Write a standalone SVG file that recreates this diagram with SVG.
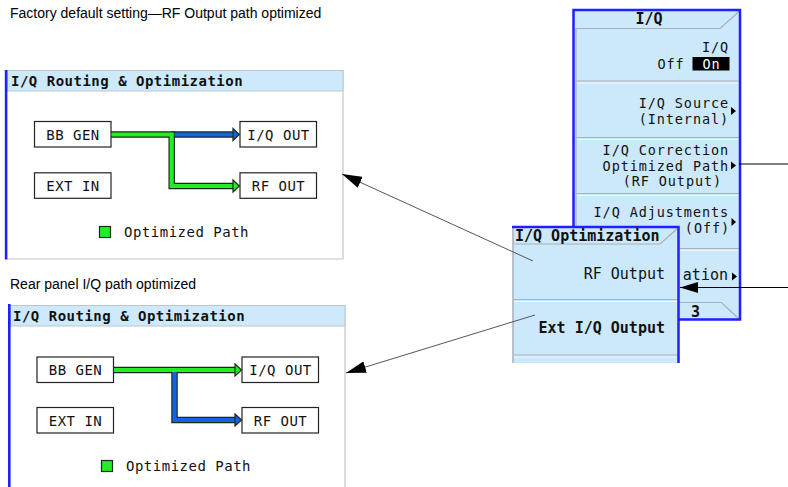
<svg xmlns="http://www.w3.org/2000/svg" width="788" height="487" viewBox="0 0 788 487">
<defs>
<style>
.cap{font-family:"Liberation Sans",Arial,sans-serif;font-size:14px;fill:#000}
.m{font-family:"DejaVu Sans Mono",monospace;font-size:14px;letter-spacing:0.5px;fill:#111}
.mm{font-family:"DejaVu Sans Mono",monospace;font-size:15px;fill:#111}
.ms{font-family:"DejaVu Sans Mono",monospace;font-size:13.5px;letter-spacing:0.9px;fill:#111}
.b{font-weight:bold}
.e{text-anchor:end}
.c{text-anchor:middle}
.box{fill:#fff;stroke:#222;stroke-width:1.2}
.tbar{fill:#cde9fb;stroke:#bcc6cf;stroke-width:1}
.frame{fill:none;stroke:#c6c6c6;stroke-width:1.2}
.blue{fill:#1f1fff}
.out{fill:none;stroke:#1a2a1a;stroke-width:6.5;stroke-linejoin:miter}
.gr{fill:none;stroke:#22ee22;stroke-width:4.2;stroke-linejoin:miter}
.bl{fill:none;stroke:#1463e6;stroke-width:4.2}
.hg{fill:#22ee22;stroke:#1a2a1a;stroke-width:1.2;stroke-linejoin:miter}
.hb{fill:#1463e6;stroke:#1a2a1a;stroke-width:1.2;stroke-linejoin:miter}
.menu{fill:#cce8fb}
.sep{fill:none;stroke:#a8b0b8;stroke-width:1.2}
.hl{fill:none;stroke:#f2f8fc;stroke-width:1}
.mb{fill:none;stroke:#1f1fff;stroke-width:2.5}
.ptr{fill:none;stroke:#555;stroke-width:1}
.ptrk{fill:none;stroke:#000;stroke-width:1.2}
</style>
<marker id="ah" viewBox="0 0 20 12" refX="20" refY="6" markerWidth="20" markerHeight="12" orient="auto" markerUnits="userSpaceOnUse"><path d="M0,0 L20,6 L0,12 Z" fill="#000"/></marker>
<marker id="ah2" viewBox="0 0 18 11" refX="18" refY="5.5" markerWidth="18" markerHeight="11" orient="auto" markerUnits="userSpaceOnUse"><path d="M0,0 L18,5.5 L0,11 Z" fill="#000"/></marker>
</defs>
<rect width="788" height="487" fill="#fff"/>

<text class="cap" x="10" y="18">Factory default setting—RF Output path optimized</text>
<text class="cap" x="10" y="289">Rear panel I/Q path optimized</text>

<g id="panel-factory">
<path class="frame" d="M7,70.5 H343 V259 H7"/>
<rect class="tbar" x="7.5" y="70.5" width="335.5" height="20.5"/>
<rect class="blue" x="4.8" y="70" width="2.6" height="189.5"/>
<text class="m b" x="11" y="86">I/Q Routing &amp; Optimization</text>
<g id="p1-bbgen"><rect class="box" x="34.5" y="121.5" width="76.5" height="25.5"/><text class="m c" x="73" y="139.5">BB GEN</text></g>
<g id="p1-extin"><rect class="box" x="34.5" y="172.8" width="76.5" height="25.5"/><text class="m c" x="73" y="190.8">EXT IN</text></g>
<g id="p1-iqout"><rect class="box" x="240" y="121.5" width="76.5" height="25.5"/><text class="m c" x="278.5" y="139.5">I/Q OUT</text></g>
<g id="p1-rfout"><rect class="box" x="240" y="172.8" width="76.5" height="25.5"/><text class="m c" x="278.5" y="190.8">RF OUT</text></g>
<g id="p1-legend"><rect x="99.5" y="226.5" width="11" height="11" fill="#22ee22" stroke="#1a2a1a" stroke-width="1.2"/><text class="m" x="124" y="236.5">Optimized Path</text></g>
</g>

<g id="panel-rear">
<path class="frame" d="M10,305.5 H345 V487"/>
<rect class="tbar" x="10.5" y="305.5" width="334.5" height="20.5"/>
<rect class="blue" x="8" y="304" width="2.6" height="183"/>
<text class="m b" x="13" y="321">I/Q Routing &amp; Optimization</text>
<g id="p2-bbgen"><rect class="box" x="37" y="357" width="76.5" height="25.5"/><text class="m c" x="75.5" y="375">BB GEN</text></g>
<g id="p2-extin"><rect class="box" x="37" y="407.5" width="76.5" height="25.5"/><text class="m c" x="75.5" y="425.5">EXT IN</text></g>
<g id="p2-iqout"><rect class="box" x="242" y="357" width="76.5" height="25.5"/><text class="m c" x="280.5" y="375">I/Q OUT</text></g>
<g id="p2-rfout"><rect class="box" x="242" y="407.5" width="76.5" height="25.5"/><text class="m c" x="280.5" y="425.5">RF OUT</text></g>
<g id="p2-legend"><rect x="101.5" y="460.5" width="11" height="11" fill="#22ee22" stroke="#1a2a1a" stroke-width="1.2"/><text class="m" x="126" y="471">Optimized Path</text></g>
</g>

<g id="menu-iq">
<rect class="menu" x="573.5" y="10" width="167" height="310"/>
<path class="sep" d="M575.5,28.5 H720 L739,11.5"/>
<path class="sep" d="M575.5,81 H739"/><path class="hl" d="M575.5,83 H739"/>
<path class="sep" d="M575.5,137.5 H739"/><path class="hl" d="M575.5,139.5 H739"/>
<path class="sep" d="M575.5,193.5 H739"/><path class="hl" d="M575.5,195.5 H739"/>
<path class="sep" d="M575.5,248.5 H739"/><path class="hl" d="M575.5,250.5 H739"/>
<path class="sep" d="M575.5,302.5 H721.5 L738.5,318.5"/>
<path class="sep" d="M576,29 V319"/>
<path class="mb" d="M573.5,319.5 V10 H740 V319.5 H573.5"/>
<text class="mm b c" x="649" y="24">I/Q</text>
<text class="ms e" x="729" y="52">I/Q</text>
<text class="ms e" x="684.5" y="68.5">Off</text>
<rect x="692.5" y="57" width="37" height="13.5" fill="#000"/>
<text class="ms c" x="711.5" y="68.5" style="fill:#fff">On</text>
<text class="ms e"><tspan x="729" y="107.9">I/Q Source</tspan><tspan x="729" y="123.7">(Internal)</tspan></text>
<polygon points="731,107 736,111 731,115" fill="#000"/>
<text class="ms e"><tspan x="729" y="154.8">I/Q Correction</tspan><tspan x="729" y="170.6">Optimized Path</tspan><tspan x="722" y="186.4">(RF Output)</tspan></text>
<polygon points="731,161.5 736,165.5 731,169.5" fill="#000"/>
<text class="ms e"><tspan x="729" y="217.1">I/Q Adjustments</tspan><tspan x="730" y="232.9">(Off)</tspan></text>
<polygon points="731.5,218 736,222 731.5,226" fill="#000"/>
<text class="mm e" x="728" y="280">ation</text>
<polygon points="732,272.5 737,276.5 732,280.5" fill="#000"/>
<text class="mm b" x="691" y="317">3</text>
</g>

<g id="menu-optimization">
<rect class="menu" x="512.5" y="227" width="166.5" height="136"/>
<path class="sep" d="M514,244 H660 L677,229"/>
<path class="sep" d="M514,299.5 H677"/><path class="hl" d="M514,301.5 H677"/>
<path class="sep" d="M514,355 H677"/><path class="hl" d="M514,357 H677"/>
<path fill="none" stroke="#aab2ba" stroke-width="1.5" d="M513,227 V363"/>
<path class="mb" d="M512,227 H678.5 V363"/>
<text class="mm b" x="515" y="240.5">I/Q Optimization</text>
<text class="mm e" x="665" y="279">RF Output</text>
<text class="mm b e" x="665" y="333">Ext I/Q Output</text>
</g>

<g id="connectors">
<path class="out" d="M111,134.5 H171.7 V186 H234"/>
<path class="out" d="M171.7,134.5 H234"/>
<path class="bl" d="M174.5,134.5 H234"/>
<path class="gr" d="M111.5,134.5 H171.7 V186 H234"/>
<polygon class="hb" points="233,128.5 239.3,134.5 233,140.5"/>
<polygon class="hg" points="233,180 239.3,186 233,192"/>
<path class="out" d="M113.5,370 H236"/>
<path class="out" d="M174.5,370 V420 H236"/>
<path class="bl" d="M174.5,372 V420 H236"/>
<path class="gr" d="M114,370 H236"/>
<polygon class="hg" points="235,364 241.5,370 235,376"/>
<polygon class="hb" points="235,414 241.5,420 235,426"/>
<path class="ptr" d="M533,261 L342,174" marker-end="url(#ah)"/>
<path class="ptr" d="M535,315 L346,373" marker-end="url(#ah)"/>
<path class="ptrk" d="M788,164 H739"/>
<path class="ptrk" d="M788,287.5 H680" marker-end="url(#ah2)"/>
</g>
</svg>
